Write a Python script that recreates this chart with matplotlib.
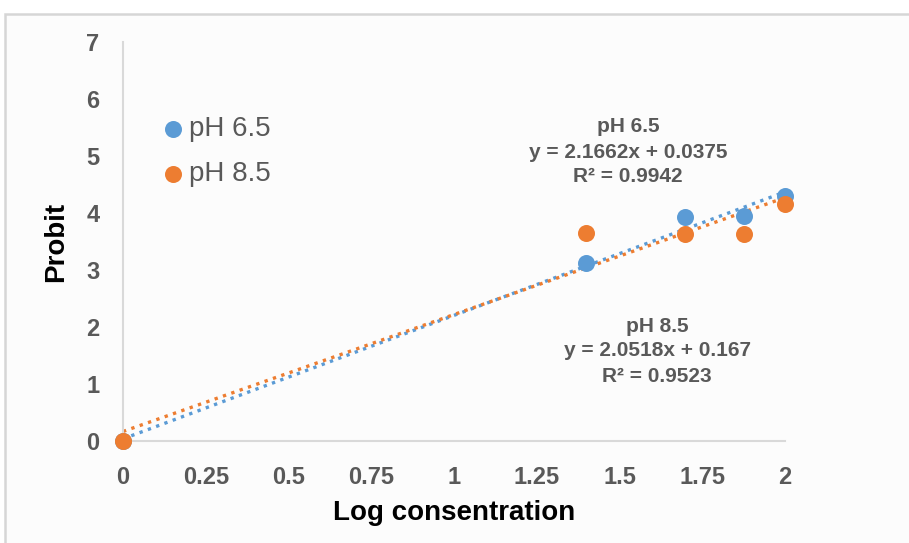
import matplotlib
matplotlib.use("Agg")
import matplotlib.pyplot as plt
import numpy as np
from matplotlib.patches import Rectangle

log_conc = [0, 1.398, 1.699, 1.875, 2.0]
probit_65 = [0, 3.13, 3.93, 3.94, 4.29]
probit_85 = [0, 3.65, 3.64, 3.64, 4.16]

fit_65 = (2.1662, 0.0375, 0.9942)
fit_85 = (2.0518, 0.167, 0.9523)

blue = '#5B9BD5'
orange = '#ED7D31'
grey_txt = '#595959'

plt.rcParams['font.family'] = ['Liberation Sans', 'DejaVu Sans']

fig = plt.figure(figsize=(9.09, 5.43), dpi=100)
fig.patch.set_facecolor('white')
# light outer frame (only top and left edges are visible in the source)
fig.patches.append(Rectangle((5/909, -0.2), 1.5, 1.2 - 14/543, transform=fig.transFigure,
                             facecolor='#fcfcfc', edgecolor='#d6d6d6', lw=1.8, zorder=-10))

ax = fig.add_axes([123/909, 1 - 441/543, 662/909, 399/543])
ax.set_facecolor('none')

xs = np.array([0, 2])
ax.plot(xs, fit_65[0]*xs + fit_65[1], ls=':', color=blue, lw=2.4, zorder=2)
ax.plot(xs, fit_85[0]*xs + fit_85[1], ls=':', color=orange, lw=2.4, zorder=2)
ax.scatter(log_conc, probit_65, s=150, color=blue, zorder=3, label='pH 6.5', linewidths=0, clip_on=False)
ax.scatter(log_conc, probit_85, s=150, color=orange, zorder=4, label='pH 8.5', linewidths=0, clip_on=False)

ax.set_xlim(0, 2)
ax.set_ylim(0, 7)
ax.set_xticks(np.arange(0, 2.01, 0.25))
ax.set_xticklabels(['0', '0.25', '0.5', '0.75', '1', '1.25', '1.5', '1.75', '2'])
ax.set_yticks(range(0, 8))
ax.tick_params(length=0, labelsize=17, labelcolor=grey_txt)
ax.tick_params(axis='x', pad=18)
ax.tick_params(axis='y', pad=17)
for lab in ax.get_xticklabels() + ax.get_yticklabels():
    lab.set_fontweight('bold')

for s in ['top', 'right']:
    ax.spines[s].set_visible(False)
for s in ['left', 'bottom']:
    ax.spines[s].set_color('#d9d9d9')
    ax.spines[s].set_linewidth(1.5)

ax.set_xlabel('Log consentration', fontsize=20, fontweight='bold', labelpad=8)
ax.set_ylabel('Probit', fontsize=20, fontweight='bold', labelpad=12)

leg = ax.legend(loc='upper left', bbox_to_anchor=(145/909, 1 - 105/543), bbox_transform=fig.transFigure,
                frameon=False, fontsize=20, handletextpad=0.0, labelspacing=0.68, borderaxespad=0,
                handlelength=1.2)
for t in leg.get_texts():
    t.set_color(grey_txt)

def note(xp, yp, title, fit):
    m, b, r2 = fit
    txt = '%s\ny = %sx + %s\nR² = %s' % (title, m, b, r2)
    fig.text(xp/909, 1 - yp/543, txt, ha='center', va='center', fontsize=15,
             fontweight='bold', color=grey_txt, linespacing=1.4)

note(628, 152, 'pH 6.5', fit_65)
note(657, 351, 'pH 8.5', fit_85)

fig.savefig('out.png', dpi=100)
